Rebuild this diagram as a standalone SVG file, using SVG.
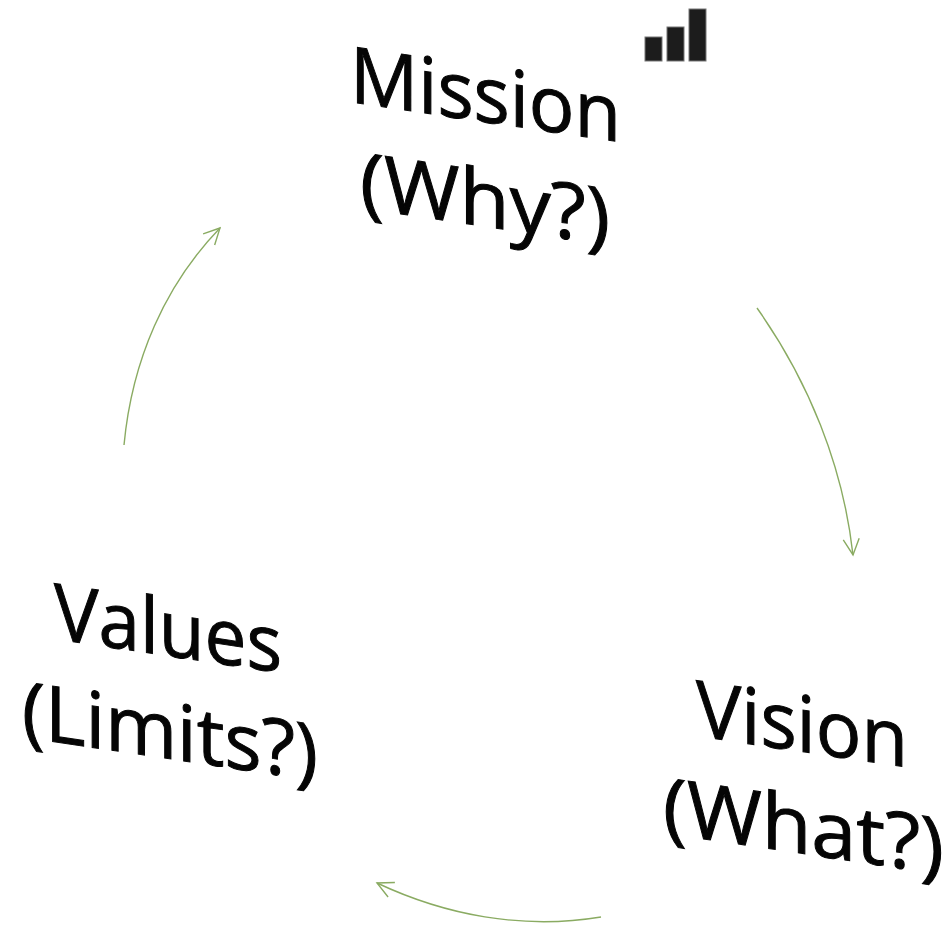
<svg xmlns="http://www.w3.org/2000/svg" width="946" height="929" viewBox="0 0 946 929">
<style>
.t{font-family:"Open Sans","Noto Sans","Liberation Sans",sans-serif;font-size:78px;fill:#050505;stroke:#050505;stroke-width:1;text-anchor:start}
.c{fill:none;stroke:#8aab62;stroke-width:1.4}
.b{fill:#1c1c1c;stroke:#777;stroke-width:1}
</style>
<defs><marker id="a" viewBox="0 0 20 20" refX="18" refY="10" markerWidth="20" markerHeight="20" markerUnits="userSpaceOnUse" orient="auto"><path d="M2 2L18 10L2 18" fill="none" stroke="#8aab62" stroke-width="1.4"/></marker></defs>
<rect width="946" height="929" fill="#fff"/>
<g id="connectors">
<path class="c" marker-end="url(#a)" d="M757 308C808 380 843 465 853 555"/>
<path class="c" marker-end="url(#a)" d="M601 917C522 930 445 915 377 883"/>
<path class="c" marker-end="url(#a)" d="M124 445C132 360 165 285 220 228"/>
</g>
<g id="mission"><text class="t" transform="translate(350 102) skewY(8.4)" textLength="271" lengthAdjust="spacingAndGlyphs">Mission</text><text class="t" transform="translate(360 208) skewY(8.4)" textLength="250" lengthAdjust="spacingAndGlyphs">(Why?)</text></g>
<g id="vision"><text class="t" transform="translate(696 736) skewY(8.4)" textLength="212" lengthAdjust="spacingAndGlyphs">Vision</text><text class="t" transform="translate(663 833) skewY(8.4)" textLength="281" lengthAdjust="spacingAndGlyphs">(What?)</text></g>
<g id="values"><text class="t" transform="translate(54 639) skewY(8.4)" textLength="228" lengthAdjust="spacingAndGlyphs">Values</text><text class="t" transform="translate(22 737) skewY(8.4)" textLength="296" lengthAdjust="spacingAndGlyphs">(Limits?)</text></g>
<g id="icon"><rect class="b" x="645" y="37" width="17" height="24"/><rect class="b" x="667" y="27" width="17" height="34"/><rect class="b" x="689" y="9" width="17" height="52"/></g>
</svg>
